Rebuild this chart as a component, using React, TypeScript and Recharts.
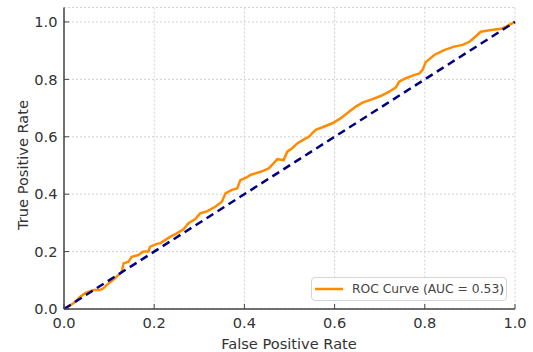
import React from 'react';
import { LineChart, Line, XAxis, YAxis, CartesianGrid, Legend, Label } from 'recharts';

// ROC curve points
const fpr = [0, 0.021, 0.036, 0.047, 0.065, 0.08, 0.087, 0.095, 0.113, 0.128, 0.132, 0.143, 0.15, 0.165, 0.176, 0.187, 0.191, 0.206, 0.213, 0.236, 0.247, 0.265, 0.276, 0.291, 0.302, 0.317, 0.336, 0.35, 0.358, 0.372, 0.384, 0.391, 0.406, 0.413, 0.436, 0.454, 0.465, 0.473, 0.487, 0.495, 0.506, 0.517, 0.532, 0.543, 0.55, 0.558, 0.576, 0.595, 0.613, 0.632, 0.647, 0.662, 0.684, 0.702, 0.721, 0.736, 0.743, 0.758, 0.776, 0.788, 0.795, 0.802, 0.821, 0.843, 0.865, 0.884, 0.899, 0.91, 0.924, 0.947, 0.969, 0.98, 1.0];
const tpr = [0, 0.02, 0.043, 0.055, 0.066, 0.066, 0.072, 0.084, 0.107, 0.13, 0.159, 0.165, 0.182, 0.188, 0.2, 0.2, 0.217, 0.227, 0.229, 0.252, 0.261, 0.278, 0.299, 0.313, 0.333, 0.34, 0.357, 0.374, 0.403, 0.415, 0.42, 0.449, 0.459, 0.467, 0.478, 0.49, 0.508, 0.522, 0.519, 0.548, 0.56, 0.577, 0.591, 0.6, 0.612, 0.624, 0.635, 0.647, 0.664, 0.687, 0.705, 0.719, 0.731, 0.742, 0.757, 0.772, 0.792, 0.804, 0.815, 0.821, 0.833, 0.86, 0.885, 0.902, 0.914, 0.92, 0.931, 0.946, 0.966, 0.972, 0.976, 0.984, 1.0];
const chanceFpr = [0, 1];
const chanceTpr = [0, 1];
const ticks = [0, 0.2, 0.4, 0.6, 0.8, 1.0];
const aucLabel = 'ROC Curve (AUC = 0.53)';

const rocData = fpr.map((x, i) => ({ fpr: x, tpr: tpr[i] }));
const chanceData = chanceFpr.map((x, i) => ({ fpr: x, tpr: chanceTpr[i] }));

const FONT = '"DejaVu Sans", sans-serif';
const fmt = (v: number) => v.toFixed(1);

const LegendBox = () => (
    <div style={{
        width: 196, height: 24, boxSizing: 'border-box', border: '1px solid #d6d6d6', borderRadius: 4,
        background: 'rgba(255,255,255,0.85)', display: 'flex', alignItems: 'center', fontFamily: FONT,
    }}>
        <svg width={40} height={24}>
            <line x1={3} y1={12} x2={31} y2={12} stroke="#ff8c00" strokeWidth={2.5} />
        </svg>
        <span style={{ fontSize: 12.3, color: '#444', whiteSpace: 'nowrap' }}>{aucLabel}</span>
    </div>
);

export default function App() {
    return (
        <div style={{ position: 'absolute', left: 0, top: 0, background: '#fff' }}>
            <LineChart width={533} height={352} margin={{ top: 7.6, right: 18, left: 0, bottom: 0 }}>
                <CartesianGrid stroke="#d0d0d0" strokeDasharray="2 2" />
                <XAxis
                    type="number" dataKey="fpr" domain={[0, 1]} ticks={ticks} tickFormatter={fmt}
                    height={43} tickSize={-5} tickMargin={13.6}
                    axisLine={{ stroke: '#444', strokeWidth: 1.5 }} tickLine={{ stroke: '#444' }}
                    tick={{ fill: '#333', fontSize: 14.6, fontFamily: FONT }}
                >
                    <Label content={() => (
                        <text x={289} y={343} textAnchor="middle" dominantBaseline="central"
                            fill="#333" fontSize={14.6} fontFamily={FONT}>False Positive Rate</text>
                    )} />
                </XAxis>
                <YAxis
                    type="number" domain={[0, 1.05]} ticks={ticks} tickFormatter={fmt}
                    width={64} tickSize={-5} tickMargin={11.5}
                    axisLine={{ stroke: '#444', strokeWidth: 1.5 }} tickLine={{ stroke: '#444' }}
                    tick={{ fill: '#333', fontSize: 14.6, fontFamily: FONT }}
                >
                    <Label content={() => (
                        <text x={22} y={165} transform="rotate(-90 22 165)" textAnchor="middle"
                            dominantBaseline="central" fill="#333" fontSize={14.6} fontFamily={FONT}>True Positive Rate</text>
                    )} />
                </YAxis>
                <Line data={rocData} dataKey="tpr" type="linear" stroke="#ff8c00" strokeWidth={2.5}
                    dot={false} activeDot={false} isAnimationActive={false} />
                <Line data={chanceData} dataKey="tpr" type="linear" stroke="#000080" strokeWidth={2.5}
                    strokeDasharray="8 5" dot={false} activeDot={false} isAnimationActive={false} />
                <Legend layout="vertical" align="center" verticalAlign="middle" content={() => <LegendBox />}
                    wrapperStyle={{ left: 311, top: 277, width: 196 }} />
            </LineChart>
        </div>
    );
}
